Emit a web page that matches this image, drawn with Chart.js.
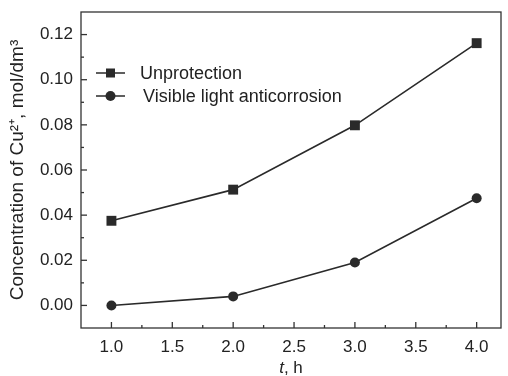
<!DOCTYPE html>
<html>
<head>
<meta charset="utf-8">
<script src="https://cdn.jsdelivr.net/npm/chart.js@4.4.0/dist/chart.umd.min.js"></script>
<style>
  html, body { margin: 0; padding: 0; background: #fff; }
  #wrap { width: 508px; height: 376px; }
</style>
</head>
<body>
<div id="wrap"><canvas id="grafico" width="508" height="376"></canvas></div>
<script>
// dados
const tempos = [1.0, 2.0, 3.0, 4.0];
const unprotection = [0.0375, 0.0513, 0.0798, 0.1162];
const visibleLight = [0.0000, 0.0040, 0.0190, 0.0475];
const nomesSeries = ['Unprotection', 'Visible light anticorrosion'];

const corTraco = '#2a2a2a';
const fonte = '"Liberation Sans", Arial, sans-serif';

// ticks para dentro, moldura e legenda
const extras = {
    id: 'extras',
    afterDraw(chart) {
        const ctx = chart.ctx;
        const a = chart.chartArea;
        const xs = chart.scales.x, ys = chart.scales.y;
        ctx.save();
        ctx.strokeStyle = '#333';
        ctx.lineWidth = 1.3;
        ctx.strokeRect(a.left, a.top, a.right - a.left, a.bottom - a.top);

        ys.ticks.forEach(t => {
            const p = ys.getPixelForValue(t.value);
            if (p <= a.top + 1 || p >= a.bottom - 1) return;
            const major = Math.abs(Math.round(t.value * 100)) % 2 === 0;
            ctx.beginPath();
            ctx.moveTo(a.left, p);
            ctx.lineTo(a.left + (major ? 6 : 3), p);
            ctx.stroke();
        });
        xs.ticks.forEach(t => {
            const p = xs.getPixelForValue(t.value);
            if (p <= a.left + 1 || p >= a.right - 1) return;
            const major = Math.round(t.value * 4) % 2 === 0;
            ctx.beginPath();
            ctx.moveTo(p, a.bottom);
            ctx.lineTo(p, a.bottom - (major ? 6 : 3));
            ctx.stroke();
        });

        // legenda
        ctx.font = '18px ' + fonte;
        ctx.textBaseline = 'middle';
        chart.data.datasets.forEach((ds, i) => {
            const y = 73 + i * 23;
            ctx.strokeStyle = corTraco;
            ctx.lineWidth = 1.5;
            ctx.beginPath();
            ctx.moveTo(96, y);
            ctx.lineTo(125, y);
            ctx.stroke();
            ctx.fillStyle = corTraco;
            if (ds.pointStyle === 'rect') {
                ctx.fillRect(106, y - 4.5, 9, 9);
            } else {
                ctx.beginPath();
                ctx.arc(110.5, y, 5, 0, Math.PI * 2);
                ctx.fill();
            }
            ctx.fillStyle = '#222';
            ctx.fillText(ds.label, 140 + i * 3, y + 1);
        });

        // título do eixo x com t em itálico
        ctx.textBaseline = 'alphabetic';
        const cx = (a.left + a.right) / 2;
        ctx.font = 'italic 17px ' + fonte;
        const w1 = ctx.measureText('t').width;
        ctx.font = '17px ' + fonte;
        const w2 = ctx.measureText(', h').width;
        const x0 = cx - (w1 + w2) / 2;
        ctx.font = 'italic 17px ' + fonte;
        ctx.fillText('t', x0, 373);
        ctx.font = '17px ' + fonte;
        ctx.fillText(', h', x0 + w1, 373);
        ctx.restore();
    }
};

new Chart(document.getElementById('grafico'), {
    type: 'line',
    data: {
        datasets: [{
            label: nomesSeries[0],
            data: tempos.map((t, i) => ({ x: t, y: unprotection[i] })),
            borderColor: corTraco,
            backgroundColor: corTraco,
            borderWidth: 1.6,
            pointStyle: 'rect',
            pointRadius: 7,
            pointBorderWidth: 0
        }, {
            label: nomesSeries[1],
            data: tempos.map((t, i) => ({ x: t, y: visibleLight[i] })),
            borderColor: corTraco,
            backgroundColor: corTraco,
            borderWidth: 1.6,
            pointStyle: 'circle',
            pointRadius: 5,
            pointBorderWidth: 0
        }]
    },
    options: {
        responsive: false,
        animation: false,
        layout: { padding: { top: 12, right: 4, left: 0, bottom: 0 } },
        plugins: { legend: { display: false }, tooltip: { enabled: false } },
        scales: {
            x: {
                type: 'linear',
                min: 0.75,
                max: 4.2,
                border: { display: false },
                grid: { display: false, drawTicks: false },
                ticks: {
                    stepSize: 0.25,
                    includeBounds: false,
                    autoSkip: false,
                    maxRotation: 0,
                    padding: 9,
                    color: '#222',
                    font: { family: fonte, size: 17 },
                    callback: v => (Math.round(v * 4) % 2 === 0 ? v.toFixed(1) : '')
                },
                afterFit: s => { s.height = 48; s.paddingLeft = 0; s.paddingRight = 0; }
            },
            y: {
                min: -0.01,
                max: 0.13,
                border: { display: false },
                grid: { display: false, drawTicks: false },
                title: {
                    display: true,
                    text: 'Concentration of Cu²⁺, mol/dm³',
                    color: '#222',
                    font: { family: fonte, size: 19 },
                    padding: { top: 6, bottom: 4 }
                },
                ticks: {
                    stepSize: 0.01,
                    autoSkip: false,
                    padding: 8,
                    color: '#222',
                    font: { family: fonte, size: 17 },
                    callback: v => {
                        const n = Math.round(v * 100);
                        return (n >= 0 && n % 2 === 0) ? (n / 100).toFixed(2) : '';
                    }
                },
                afterFit: s => { s.width = 81; s.paddingTop = 0; s.paddingBottom = 0; }
            }
        }
    },
    plugins: [extras]
});
</script>
</body>
</html>
